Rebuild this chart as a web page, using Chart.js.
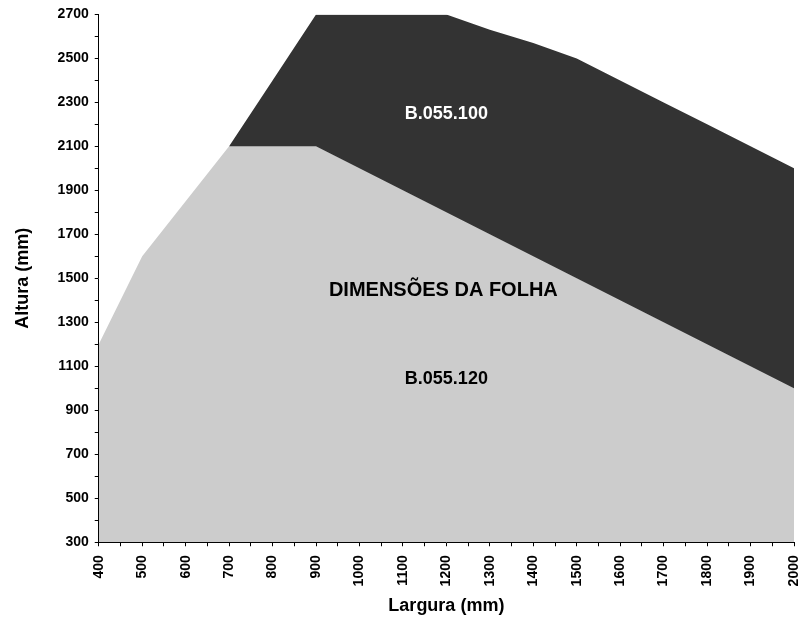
<!DOCTYPE html>
<html>
<head>
<meta charset="utf-8">
<script src="https://cdn.jsdelivr.net/npm/chart.js@4/dist/chart.umd.min.js"></script>
<style>
  html, body { margin: 0; padding: 0; background: #fff; }
  #wrap { width: 799px; height: 620px; }
</style>
</head>
<body>
<div id="wrap"><canvas id="chart" width="799" height="620"></canvas></div>
<script>
const larguras = [400, 500, 600, 700, 800, 900, 1000, 1100, 1200, 1300, 1400, 1500, 1600, 1700, 1800, 1900, 2000];
const alturaB055120 = [1200, 1600, 1850, 2100, 2100, 2100, 2000, 1900, 1800, 1700, 1600, 1500, 1400, 1300, 1200, 1100, 1000];
const alturaB055100 = [null, null, null, 2100, 2400, 2700, 2700, 2700, 2700, 2630, 2570, 2500, 2400, 2300, 2200, 2100, 2000];

const areaLabels = [
  { text: 'B.055.100', x: 1200, y: 2245, color: '#ffffff', size: 18 },
  { text: 'DIMENSÕES DA FOLHA', x: 1193, y: 1443, color: '#000000', size: 20 },
  { text: 'B.055.120', x: 1200, y: 1042, color: '#000000', size: 18 }
];

const FONT = '"Liberation Sans", Arial, sans-serif';

function toPoints(xs, ys) {
  return xs.map((x, i) => ({ x: x, y: ys[i] }));
}

const labelPlugin = {
  id: 'areaLabels',
  afterDatasetsDraw(chart) {
    const ctx = chart.ctx;
    const xs = chart.scales.x, ys = chart.scales.y;
    ctx.save();
    ctx.textAlign = 'center';
    ctx.textBaseline = 'middle';
    areaLabels.forEach(l => {
      ctx.font = 'bold ' + l.size + 'px ' + FONT;
      ctx.fillStyle = l.color;
      ctx.fillText(l.text, xs.getPixelForValue(l.x), ys.getPixelForValue(l.y));
    });
    ctx.restore();
  }
};

const ctx = document.getElementById('chart').getContext('2d');
new Chart(ctx, {
  type: 'line',
  data: {
    datasets: [
      {
        label: 'B.055.120',
        data: toPoints(larguras, alturaB055120),
        backgroundColor: '#cccccc',
        borderWidth: 0,
        pointRadius: 0,
        fill: 'origin',
        tension: 0
      },
      {
        label: 'B.055.100',
        data: toPoints(larguras, alturaB055100),
        backgroundColor: '#333333',
        borderWidth: 0,
        pointRadius: 0,
        fill: 'origin',
        spanGaps: false,
        tension: 0
      }
    ]
  },
  options: {
    responsive: false,
    animation: false,
    layout: { padding: { top: 9, right: 0, left: 12, bottom: 3 } },
    plugins: {
      legend: { display: false },
      tooltip: { enabled: false }
    },
    scales: {
      x: {
        type: 'linear',
        min: 400,
        max: 2000,
        border: { display: true, color: '#000', width: 1 },
        grid: { drawOnChartArea: false, drawTicks: true, tickLength: 4, color: '#000' },
        ticks: {
          stepSize: 50,
          autoSkip: false,
          minRotation: 90,
          maxRotation: 90,
          padding: 9,
          color: '#000',
          font: { family: FONT, size: 14, weight: 'bold' },
          callback: v => (v % 100 === 0 ? String(v) : '')
        },
        afterFit: s => { s.paddingRight = 5; },
        title: {
          display: true,
          text: 'Largura (mm)',
          color: '#000',
          padding: { top: 0, bottom: 0 },
          font: { family: FONT, size: 18, weight: 'bold' }
        }
      },
      y: {
        type: 'linear',
        min: 300,
        max: 2700,
        border: { display: true, color: '#000', width: 1 },
        grid: { drawOnChartArea: false, drawTicks: true, tickLength: 4, color: '#000' },
        ticks: {
          stepSize: 100,
          autoSkip: false,
          padding: 6,
          color: '#000',
          font: { family: FONT, size: 14, weight: 'bold' },
          callback: v => ((v - 300) % 200 === 0 ? String(v) : '')
        },
        title: {
          display: true,
          text: 'Altura (mm)',
          color: '#000',
          padding: { top: 0, bottom: 18 },
          font: { family: FONT, size: 18, weight: 'bold' }
        }
      }
    }
  },
  plugins: [labelPlugin]
});
</script>
</body>
</html>
